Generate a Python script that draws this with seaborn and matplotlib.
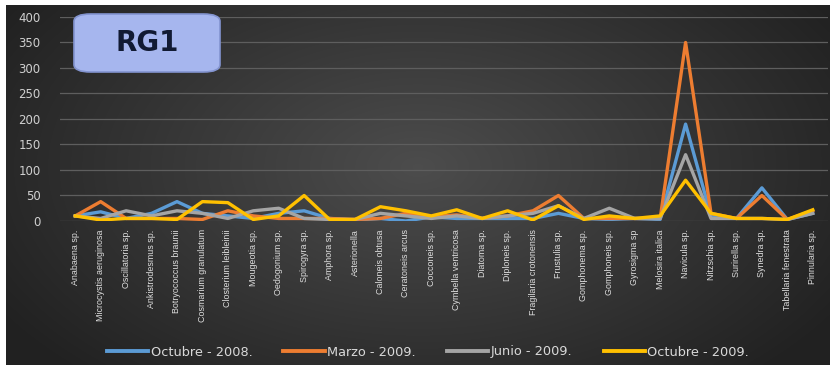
import numpy as np
import pandas as pd
import matplotlib.pyplot as plt
import seaborn as sns
from matplotlib.patches import FancyBboxPatch
from matplotlib.lines import Line2D

# ==========================================
# Data
# ==========================================

species = [
    "Anabaena sp.", "Microcystis aeruginosa", "Oscillatoria sp.", "Ankistrodesmus sp.",
    "Botryococcus braunii", "Cosmarium granulatum", "Closterium leibleinii", "Mougeotia sp.",
    "Oedogonium sp.", "Spirogyra sp.", "Amphora sp.", "Asterionella", "Caloneis obtusa",
    "Ceratoneis arcus", "Cocconeis sp.", "Cymbella ventricosa", "Diatoma sp.", "Diploneis sp.",
    "Fragilaria crotonensis", "Frustulia sp.", "Gomphonema sp.", "Gomphoneis sp.",
    "Gyrosigma sp", "Melosira italica", "Navicula sp.", "Nitzschia sp.", "Surirella sp.",
    "Synedra sp.", "Tabellaria fenestrata", "Pinnularia sp.",
]

oct_2008 = [10, 18, 5, 15, 38, 15, 10, 5, 15, 20, 5, 2, 5, 0, 8,
            5, 5, 5, 5, 15, 5, 3, 5, 3, 190, 10, 5, 65, 3, 15]
mar_2009 = [10, 38, 5, 5, 5, 3, 20, 10, 5, 5, 5, 3, 5, 15, 8,
            12, 5, 10, 20, 50, 5, 5, 5, 5, 350, 15, 5, 50, 3, 20]
jun_2009 = [10, 5, 20, 10, 20, 15, 5, 20, 25, 5, 3, 3, 15, 10, 5,
            10, 5, 10, 15, 30, 5, 25, 5, 5, 130, 5, 5, 5, 3, 15]
oct_2009 = [10, 2, 5, 5, 3, 38, 36, 3, 10, 50, 3, 3, 28, 20, 10,
            22, 5, 20, 2, 30, 3, 10, 5, 10, 80, 15, 5, 5, 3, 22]

series_names = ["Octubre - 2008.", "Marzo - 2009.", "Junio - 2009.", "Octubre - 2009."]
colors = ["#5b9bd5", "#ed7d31", "#a5a5a5", "#ffc000"]

rows = []
for name, vals in zip(series_names, [oct_2008, mar_2009, jun_2009, oct_2009]):
    for i, v in enumerate(vals):
        rows.append({"idx": i, "value": v, "serie": name})
df = pd.DataFrame(rows)

# ==========================================
# Figure
# ==========================================

fig = plt.figure(figsize=(8.36, 3.71), dpi=100)
fig.patch.set_facecolor("white")

# dark chart area with soft gradient
bg = fig.add_axes([0, 0, 1, 1], zorder=-10)
bg.set_axis_off()
yy, xx = np.mgrid[0:1:200j, 0:1:400j]
r = np.sqrt(((xx - 0.5) / 0.6) ** 2 + ((yy - 0.45) / 0.8) ** 2)
shade = 0.30 - 0.17 * np.clip(r, 0, 1)
bg.imshow(np.dstack([shade] * 3), extent=[6 / 836, 830 / 836, 6 / 371, 366 / 371],
          aspect="auto", transform=bg.transAxes, interpolation="bilinear")
bg.set_xlim(0, 1)
bg.set_ylim(0, 1)

ax = fig.add_axes([60 / 836, 1 - 221 / 371, 768 / 836, 204 / 371])
ax.patch.set_alpha(0)

sns.lineplot(
    data=df, x="idx", y="value", hue="serie",
    palette=colors, linewidth=2.4, ax=ax, legend=False, sort=False,
)

ax.set_ylim(0, 400)
ax.set_xlim(-0.6, 29.6)
ax.set_yticks(range(0, 401, 50))
ax.set_xticks(range(len(species)))
ax.set_xticklabels(species, rotation=90, fontsize=6.4, color="#dedede",
                   family="Liberation Sans")
ax.tick_params(axis="y", labelsize=8.5, colors="#d0d0d0", length=0, pad=14)
ax.tick_params(axis="x", length=0, pad=6)
ax.grid(axis="y", color="#5e5e5e", linewidth=0.9)
ax.grid(axis="x", visible=False)
for s in ax.spines.values():
    s.set_visible(False)
ax.set_xlabel("")
ax.set_ylabel("")

# RG1 box
box = FancyBboxPatch((74 / 836, 1 - 72 / 371), 146 / 836, 58 / 371,
                     boxstyle="round,pad=0,rounding_size=0.02",
                     transform=fig.transFigure, facecolor="#a6b6ee",
                     edgecolor="#8394d0", linewidth=1.2, zorder=5)
fig.patches.append(box)
fig.text(147 / 836, 1 - 43 / 371, "RG1", ha="center", va="center",
         fontsize=20, fontweight="bold", color="#111a33", zorder=6)

# Legend
handles = [Line2D([0], [0], color=c, linewidth=2.8) for c in colors]
leg = fig.legend(handles, series_names, loc="center", bbox_to_anchor=(0.512, 1 - 352 / 371),
                 ncol=4, frameon=False, fontsize=9.3, labelcolor="#d9d9d9",
                 handlelength=3.2, columnspacing=2.4, handletextpad=0.2)

plt.savefig("out.png", dpi=100)
plt.close()
